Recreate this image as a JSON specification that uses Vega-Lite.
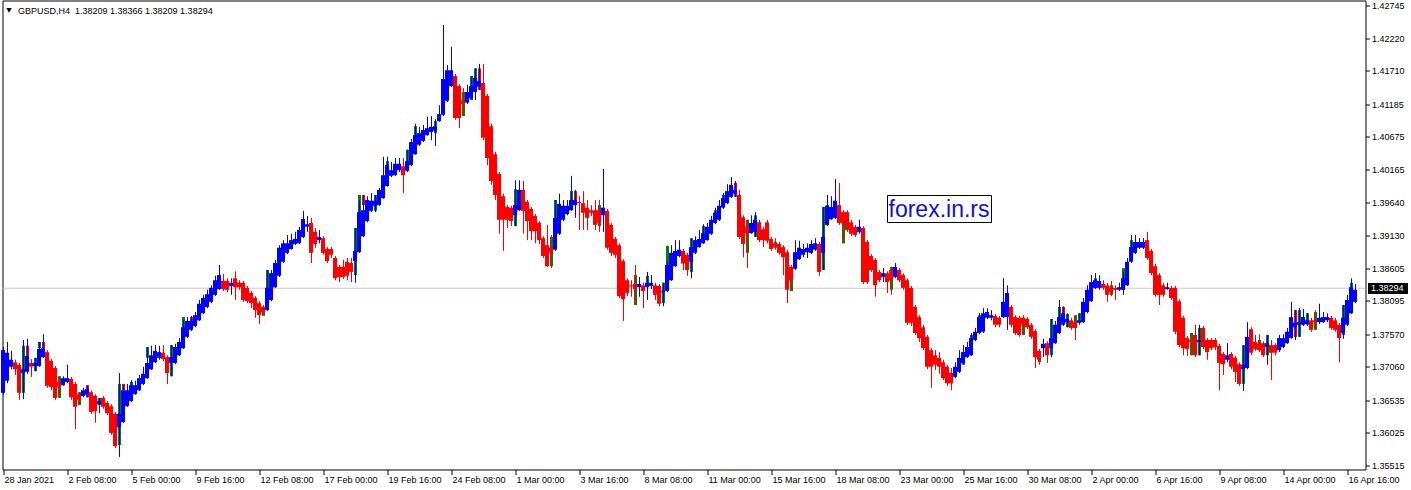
{
 "$schema": "https://vega.github.io/schema/vega-lite/v6.json",
 "width": 1363, "height": 469,
 "autosize": {"type": "none"},
 "padding": {"left": 2.5, "top": 0.5, "right": 45.5, "bottom": 20.5},
 "background": "white",
 "config": {"view": {"stroke": "#000000", "strokeWidth": 1}, "axis": {"labelFont": "Liberation Sans", "labelFontSize": 9, "labelColor": "#000000", "tickColor": "#000000", "grid": false}},
 "datasets": {
  "bid": [{"p": 1.38294}],
  "tag": [{"x1": 341.25, "x2": 351.25, "y1": 1.38376, "y2": 1.38203, "x": 342, "p": 1.38294, "t": "1.38294"}],
  "wm": [{"x1": 221.125, "x2": 247.125, "y1": 1.39751, "y2": 1.39327, "x": 234, "p": 1.39413, "t": "forex.in.rs"}],
  "hdr": [{"x": 3.75, "p": 1.42604, "t": "GBPUSD,H4 \u00a01.38209 1.38366 1.38209 1.38294", "tx": 1.5, "tp": 1.42659}],
  "cdl": [
{"i":1,"o":1.3706,"c":1.3724},{"i":5,"o":1.3665,"c":1.3739},{"i":6,"o":1.3739,"c":1.3723},{"i":8,"o":1.3699,"c":1.3720},
{"i":9,"o":1.3735,"c":1.3745},{"i":10,"o":1.3745,"c":1.3735},{"i":14,"o":1.3657,"c":1.3691},{"i":19,"o":1.3646,"c":1.3666},
{"i":21,"o":1.3677,"c":1.3658},{"i":24,"o":1.3646,"c":1.3657},{"i":29,"o":1.3583,"c":1.3679},{"i":30,"o":1.3679,"c":1.3669},
{"i":32,"o":1.3669,"c":1.3682},{"i":36,"o":1.3720,"c":1.3737},{"i":42,"o":1.3691,"c":1.3740},{"i":45,"o":1.3753,"c":1.3784},
{"i":47,"o":1.3784,"c":1.3778},{"i":65,"o":1.3786,"c":1.3795},{"i":66,"o":1.3795,"c":1.3858},{"i":88,"o":1.3850,"c":1.3924},
{"i":89,"o":1.3888,"c":1.3976},{"i":90,"o":1.3976,"c":1.3960},{"i":93,"o":1.3951,"c":1.3976},{"i":96,"o":1.4007,"c":1.4029},
{"i":101,"o":1.4014,"c":1.4047},{"i":103,"o":1.4059,"c":1.4084},{"i":108,"o":1.4073,"c":1.4092},{"i":115,"o":1.4100,"c":1.4138},
{"i":117,"o":1.4125,"c":1.4163},{"i":118,"o":1.4147,"c":1.4175},{"i":119,"o":1.4175,"c":1.4141},{"i":128,"o":1.3927,"c":1.3985},
{"i":137,"o":1.3864,"c":1.3910},{"i":138,"o":1.3940,"c":1.3968},{"i":142,"o":1.3968,"c":1.3982},{"i":143,"o":1.3982,"c":1.3960},
{"i":149,"o":1.3927,"c":1.3960},{"i":158,"o":1.3803,"c":1.3850},{"i":161,"o":1.3833,"c":1.3849},{"i":165,"o":1.3806,"c":1.3838},
{"i":166,"o":1.3866,"c":1.3896},{"i":172,"o":1.3855,"c":1.3908},{"i":175,"o":1.3916,"c":1.3927},{"i":178,"o":1.3933,"c":1.3952},
{"i":180,"o":1.3960,"c":1.3976},{"i":183,"o":1.3995,"c":1.3973},{"i":186,"o":1.3885,"c":1.3937},{"i":188,"o":1.3910,"c":1.3944},
{"i":193,"o":1.3893,"c":1.3902},{"i":197,"o":1.3825,"c":1.3863},{"i":205,"o":1.3858,"c":1.3957},{"i":206,"o":1.3929,"c":1.3960},
{"i":210,"o":1.3900,"c":1.3948},{"i":222,"o":1.3827,"c":1.3863},{"i":237,"o":1.3680,"c":1.3696},{"i":240,"o":1.3709,"c":1.3729},
{"i":242,"o":1.3732,"c":1.3756},{"i":244,"o":1.3764,"c":1.3787},{"i":250,"o":1.3784,"c":1.3808},{"i":255,"o":1.3756,"c":1.3779},
{"i":259,"o":1.3713,"c":1.3728},{"i":262,"o":1.3724,"c":1.3781},{"i":264,"o":1.3772,"c":1.3800},{"i":265,"o":1.3800,"c":1.3776},
{"i":266,"o":1.3768,"c":1.3789},{"i":268,"o":1.3767,"c":1.3787},{"i":269,"o":1.3776,"c":1.3790},{"i":273,"o":1.3830,"c":1.3845},
{"i":277,"o":1.3819,"c":1.3834},{"i":280,"o":1.3827,"c":1.3861},{"i":282,"o":1.3874,"c":1.3905},{"i":297,"o":1.3724,"c":1.3759},
{"i":299,"o":1.3724,"c":1.3767},{"i":310,"o":1.3679,"c":1.3740},{"i":314,"o":1.3732,"c":1.3748},{"i":316,"o":1.3724,"c":1.3756},
{"i":323,"o":1.3795,"c":1.3753},{"i":324,"o":1.3753,"c":1.3795},{"i":326,"o":1.3772,"c":1.3790},{"i":328,"o":1.3764,"c":1.3792},
{"i":335,"o":1.3756,"c":1.3803},{"i":337,"o":1.3803,"c":1.3838}
  ],
  "bars": [
{"i":0,"o":1.3665,"c":1.3732,"h":1.3737,"l":1.3662},
{"i":1,"o":1.3684,"c":1.3728,"h":1.3745,"l":1.3680},
{"i":2,"o":1.3706,"c":1.3717,"h":1.3731,"l":1.3702},
{"i":3,"o":1.3713,"c":1.3702,"h":1.3717,"l":1.3693},
{"i":4,"o":1.3709,"c":1.3665,"h":1.3712,"l":1.3654},
{"i":5,"o":1.3696,"c":1.3702,"h":1.3748,"l":1.3655},
{"i":6,"o":1.3698,"c":1.3723,"h":1.3750,"l":1.3695},
{"i":7,"o":1.3712,"c":1.3706,"h":1.3718,"l":1.3690},
{"i":8,"o":1.3707,"c":1.3712,"h":1.3720,"l":1.3699},
{"i":9,"o":1.3707,"c":1.3734,"h":1.3745,"l":1.3706},
{"i":10,"o":1.3721,"c":1.3735,"h":1.3757,"l":1.3720},
{"i":11,"o":1.3729,"c":1.3676,"h":1.3732,"l":1.3673},
{"i":12,"o":1.3715,"c":1.3674,"h":1.3718,"l":1.3669},
{"i":13,"o":1.3704,"c":1.3657,"h":1.3707,"l":1.3654},
{"i":14,"o":1.3682,"c":1.3674,"h":1.3691,"l":1.3657},
{"i":15,"o":1.3677,"c":1.3688,"h":1.3691,"l":1.3676},
{"i":16,"o":1.3682,"c":1.3688,"h":1.3709,"l":1.3680},
{"i":17,"o":1.3687,"c":1.3658,"h":1.3690,"l":1.3654},
{"i":18,"o":1.3679,"c":1.3643,"h":1.3682,"l":1.3608},
{"i":19,"o":1.3662,"c":1.3654,"h":1.3666,"l":1.3646},
{"i":20,"o":1.3660,"c":1.3669,"h":1.3673,"l":1.3658},
{"i":21,"o":1.3662,"c":1.3671,"h":1.3677,"l":1.3658},
{"i":22,"o":1.3666,"c":1.3635,"h":1.3669,"l":1.3632},
{"i":23,"o":1.3660,"c":1.3636,"h":1.3663,"l":1.3618},
{"i":24,"o":1.3647,"c":1.3652,"h":1.3657,"l":1.3633},
{"i":25,"o":1.3657,"c":1.3643,"h":1.3660,"l":1.3640},
{"i":26,"o":1.3649,"c":1.3633,"h":1.3652,"l":1.3630},
{"i":27,"o":1.3644,"c":1.3602,"h":1.3647,"l":1.3599},
{"i":28,"o":1.3632,"c":1.3581,"h":1.3635,"l":1.3578},
{"i":29,"o":1.3611,"c":1.3632,"h":1.3696,"l":1.3564},
{"i":30,"o":1.3619,"c":1.3669,"h":1.3677,"l":1.3618},
{"i":31,"o":1.3644,"c":1.3669,"h":1.3679,"l":1.3643},
{"i":32,"o":1.3652,"c":1.3677,"h":1.3685,"l":1.3651},
{"i":33,"o":1.3663,"c":1.3677,"h":1.3684,"l":1.3662},
{"i":34,"o":1.3669,"c":1.3688,"h":1.3693,"l":1.3668},
{"i":35,"o":1.3679,"c":1.3695,"h":1.3706,"l":1.3677},
{"i":36,"o":1.3688,"c":1.3712,"h":1.3737,"l":1.3687},
{"i":37,"o":1.3702,"c":1.3724,"h":1.3739,"l":1.3701},
{"i":38,"o":1.3713,"c":1.3731,"h":1.3740,"l":1.3712},
{"i":39,"o":1.3720,"c":1.3729,"h":1.3739,"l":1.3717},
{"i":40,"o":1.3728,"c":1.3718,"h":1.3740,"l":1.3715},
{"i":41,"o":1.3721,"c":1.3696,"h":1.3724,"l":1.3679},
{"i":42,"o":1.3712,"c":1.3721,"h":1.3740,"l":1.3691},
{"i":43,"o":1.3712,"c":1.3737,"h":1.3742,"l":1.3710},
{"i":44,"o":1.3724,"c":1.3745,"h":1.3751,"l":1.3723},
{"i":45,"o":1.3735,"c":1.3768,"h":1.3779,"l":1.3734},
{"i":46,"o":1.3753,"c":1.3778,"h":1.3784,"l":1.3751},
{"i":47,"o":1.3764,"c":1.3778,"h":1.3786,"l":1.3762},
{"i":48,"o":1.3770,"c":1.3787,"h":1.3792,"l":1.3768},
{"i":49,"o":1.3779,"c":1.3805,"h":1.3811,"l":1.3778},
{"i":50,"o":1.3790,"c":1.3814,"h":1.3819,"l":1.3789},
{"i":51,"o":1.3800,"c":1.3820,"h":1.3827,"l":1.3798},
{"i":52,"o":1.3808,"c":1.3830,"h":1.3834,"l":1.3806},
{"i":53,"o":1.3819,"c":1.3842,"h":1.3849,"l":1.3817},
{"i":54,"o":1.3828,"c":1.3850,"h":1.3866,"l":1.3827},
{"i":55,"o":1.3841,"c":1.3828,"h":1.3852,"l":1.3825},
{"i":56,"o":1.3841,"c":1.3827,"h":1.3845,"l":1.3823},
{"i":57,"o":1.3833,"c":1.3838,"h":1.3845,"l":1.3819},
{"i":58,"o":1.3845,"c":1.3831,"h":1.3856,"l":1.3811},
{"i":59,"o":1.3838,"c":1.3831,"h":1.3842,"l":1.3827},
{"i":60,"o":1.3838,"c":1.3811,"h":1.3841,"l":1.3808},
{"i":61,"o":1.3830,"c":1.3809,"h":1.3833,"l":1.3806},
{"i":62,"o":1.3822,"c":1.3806,"h":1.3825,"l":1.3798},
{"i":63,"o":1.3814,"c":1.3795,"h":1.3817,"l":1.3783},
{"i":64,"o":1.3806,"c":1.3787,"h":1.3809,"l":1.3773},
{"i":65,"o":1.3800,"c":1.3792,"h":1.3803,"l":1.3787},
{"i":66,"o":1.3795,"c":1.3830,"h":1.3858,"l":1.3794},
{"i":67,"o":1.3811,"c":1.3853,"h":1.3858,"l":1.3809},
{"i":68,"o":1.3831,"c":1.3869,"h":1.3874,"l":1.3830},
{"i":69,"o":1.3849,"c":1.3893,"h":1.3897,"l":1.3847},
{"i":70,"o":1.3871,"c":1.3900,"h":1.3905,"l":1.3869},
{"i":71,"o":1.3885,"c":1.3900,"h":1.3913,"l":1.3883},
{"i":72,"o":1.3891,"c":1.3905,"h":1.3915,"l":1.3890},
{"i":73,"o":1.3899,"c":1.3907,"h":1.3918,"l":1.3897},
{"i":74,"o":1.3900,"c":1.3921,"h":1.3926,"l":1.3899},
{"i":75,"o":1.3910,"c":1.3938,"h":1.3951,"l":1.3908},
{"i":76,"o":1.3926,"c":1.3930,"h":1.3943,"l":1.3918},
{"i":77,"o":1.3932,"c":1.3885,"h":1.3940,"l":1.3869},
{"i":78,"o":1.3918,"c":1.3899,"h":1.3924,"l":1.3893},
{"i":79,"o":1.3905,"c":1.3910,"h":1.3921,"l":1.3900},
{"i":80,"o":1.3908,"c":1.3885,"h":1.3911,"l":1.3882},
{"i":81,"o":1.3891,"c":1.3872,"h":1.3894,"l":1.3869},
{"i":82,"o":1.3891,"c":1.3882,"h":1.3894,"l":1.3877},
{"i":83,"o":1.3877,"c":1.3845,"h":1.3880,"l":1.3842},
{"i":84,"o":1.3863,"c":1.3847,"h":1.3866,"l":1.3839},
{"i":85,"o":1.3863,"c":1.3847,"h":1.3874,"l":1.3844},
{"i":86,"o":1.3871,"c":1.3849,"h":1.3877,"l":1.3842},
{"i":87,"o":1.3869,"c":1.3855,"h":1.3877,"l":1.3839},
{"i":88,"o":1.3872,"c":1.3888,"h":1.3924,"l":1.3838},
{"i":89,"o":1.3886,"c":1.3949,"h":1.3968,"l":1.3885},
{"i":90,"o":1.3911,"c":1.3952,"h":1.3976,"l":1.3910},
{"i":91,"o":1.3935,"c":1.3968,"h":1.3974,"l":1.3933},
{"i":92,"o":1.3951,"c":1.3967,"h":1.3979,"l":1.3949},
{"i":93,"o":1.3959,"c":1.3967,"h":1.3976,"l":1.3949},
{"i":94,"o":1.3960,"c":1.3984,"h":1.3987,"l":1.3959},
{"i":95,"o":1.3971,"c":1.4007,"h":1.4036,"l":1.3970},
{"i":96,"o":1.3990,"c":1.4023,"h":1.4036,"l":1.3989},
{"i":97,"o":1.4006,"c":1.4015,"h":1.4028,"l":1.4004},
{"i":98,"o":1.4007,"c":1.4025,"h":1.4034,"l":1.4006},
{"i":99,"o":1.4015,"c":1.4025,"h":1.4034,"l":1.4012},
{"i":100,"o":1.4021,"c":1.4007,"h":1.4034,"l":1.3979},
{"i":101,"o":1.4014,"c":1.4029,"h":1.4047,"l":1.4012},
{"i":102,"o":1.4023,"c":1.4059,"h":1.4064,"l":1.4021},
{"i":103,"o":1.4040,"c":1.4070,"h":1.4088,"l":1.4039},
{"i":104,"o":1.4055,"c":1.4073,"h":1.4083,"l":1.4053},
{"i":105,"o":1.4061,"c":1.4078,"h":1.4086,"l":1.4059},
{"i":106,"o":1.4070,"c":1.4081,"h":1.4099,"l":1.4069},
{"i":107,"o":1.4075,"c":1.4083,"h":1.4100,"l":1.4062},
{"i":108,"o":1.4077,"c":1.4084,"h":1.4095,"l":1.4053},
{"i":109,"o":1.4092,"c":1.4103,"h":1.4117,"l":1.4091},
{"i":110,"o":1.4102,"c":1.4158,"h":1.4243,"l":1.4100},
{"i":111,"o":1.4124,"c":1.4172,"h":1.4180,"l":1.4122},
{"i":112,"o":1.4147,"c":1.4172,"h":1.4209,"l":1.4146},
{"i":113,"o":1.4163,"c":1.4097,"h":1.4166,"l":1.4094},
{"i":114,"o":1.4147,"c":1.4097,"h":1.4150,"l":1.4081},
{"i":115,"o":1.4124,"c":1.4119,"h":1.4144,"l":1.4100},
{"i":116,"o":1.4121,"c":1.4138,"h":1.4149,"l":1.4119},
{"i":117,"o":1.4128,"c":1.4147,"h":1.4161,"l":1.4127},
{"i":118,"o":1.4138,"c":1.4160,"h":1.4175,"l":1.4125},
{"i":119,"o":1.4146,"c":1.4155,"h":1.4182,"l":1.4141},
{"i":120,"o":1.4152,"c":1.4066,"h":1.4182,"l":1.4062},
{"i":121,"o":1.4132,"c":1.4034,"h":1.4135,"l":1.4023},
{"i":122,"o":1.4084,"c":1.3998,"h":1.4088,"l":1.3992},
{"i":123,"o":1.4040,"c":1.3976,"h":1.4044,"l":1.3968},
{"i":124,"o":1.4009,"c":1.3937,"h":1.4012,"l":1.3915},
{"i":125,"o":1.3974,"c":1.3937,"h":1.3978,"l":1.3888},
{"i":126,"o":1.3957,"c":1.3937,"h":1.3960,"l":1.3924},
{"i":127,"o":1.3956,"c":1.3935,"h":1.3959,"l":1.3927},
{"i":128,"o":1.3944,"c":1.3960,"h":1.3999,"l":1.3927},
{"i":129,"o":1.3952,"c":1.3984,"h":1.3999,"l":1.3951},
{"i":130,"o":1.3984,"c":1.3951,"h":1.3998,"l":1.3915},
{"i":131,"o":1.3965,"c":1.3935,"h":1.3968,"l":1.3905},
{"i":132,"o":1.3954,"c":1.3919,"h":1.3957,"l":1.3905},
{"i":133,"o":1.3943,"c":1.3919,"h":1.3946,"l":1.3900},
{"i":134,"o":1.3932,"c":1.3905,"h":1.3935,"l":1.3899},
{"i":135,"o":1.3908,"c":1.3880,"h":1.3911,"l":1.3877},
{"i":136,"o":1.3897,"c":1.3864,"h":1.3929,"l":1.3863},
{"i":137,"o":1.3893,"c":1.3885,"h":1.3913,"l":1.3861},
{"i":138,"o":1.3890,"c":1.3940,"h":1.3968,"l":1.3888},
{"i":139,"o":1.3915,"c":1.3962,"h":1.3978,"l":1.3913},
{"i":140,"o":1.3937,"c":1.3959,"h":1.3968,"l":1.3935},
{"i":141,"o":1.3946,"c":1.3959,"h":1.3968,"l":1.3944},
{"i":142,"o":1.3952,"c":1.3968,"h":1.4006,"l":1.3951},
{"i":143,"o":1.3960,"c":1.3968,"h":1.3984,"l":1.3940},
{"i":144,"o":1.3965,"c":1.3963,"h":1.3974,"l":1.3921},
{"i":145,"o":1.3963,"c":1.3948,"h":1.3982,"l":1.3921},
{"i":146,"o":1.3956,"c":1.3940,"h":1.3968,"l":1.3921},
{"i":147,"o":1.3952,"c":1.3948,"h":1.3960,"l":1.3943},
{"i":148,"o":1.3952,"c":1.3929,"h":1.3968,"l":1.3921},
{"i":149,"o":1.3952,"c":1.3932,"h":1.3968,"l":1.3918},
{"i":150,"o":1.3944,"c":1.3956,"h":1.4017,"l":1.3918},
{"i":151,"o":1.3951,"c":1.3893,"h":1.3954,"l":1.3890},
{"i":152,"o":1.3929,"c":1.3885,"h":1.3932,"l":1.3880},
{"i":153,"o":1.3907,"c":1.3882,"h":1.3910,"l":1.3877},
{"i":154,"o":1.3897,"c":1.3817,"h":1.3900,"l":1.3814},
{"i":155,"o":1.3872,"c":1.3812,"h":1.3875,"l":1.3778},
{"i":156,"o":1.3842,"c":1.3822,"h":1.3845,"l":1.3817},
{"i":157,"o":1.3834,"c":1.3832,"h":1.3842,"l":1.3816},
{"i":158,"o":1.3836,"c":1.3828,"h":1.3866,"l":1.3803},
{"i":159,"o":1.3831,"c":1.3836,"h":1.3847,"l":1.3816},
{"i":160,"o":1.3834,"c":1.3825,"h":1.3838,"l":1.3798},
{"i":161,"o":1.3831,"c":1.3838,"h":1.3855,"l":1.3811},
{"i":162,"o":1.3833,"c":1.3838,"h":1.3850,"l":1.3828},
{"i":163,"o":1.3834,"c":1.3819,"h":1.3838,"l":1.3811},
{"i":164,"o":1.3833,"c":1.3805,"h":1.3836,"l":1.3801},
{"i":165,"o":1.3823,"c":1.3825,"h":1.3838,"l":1.3801},
{"i":166,"o":1.3825,"c":1.3866,"h":1.3871,"l":1.3823},
{"i":167,"o":1.3842,"c":1.3885,"h":1.3897,"l":1.3841},
{"i":168,"o":1.3864,"c":1.3888,"h":1.3905,"l":1.3863},
{"i":169,"o":1.3880,"c":1.3890,"h":1.3905,"l":1.3878},
{"i":170,"o":1.3888,"c":1.3868,"h":1.3891,"l":1.3858},
{"i":171,"o":1.3882,"c":1.3858,"h":1.3885,"l":1.3849},
{"i":172,"o":1.3871,"c":1.3894,"h":1.3908,"l":1.3845},
{"i":173,"o":1.3885,"c":1.3905,"h":1.3911,"l":1.3883},
{"i":174,"o":1.3894,"c":1.3907,"h":1.3921,"l":1.3893},
{"i":175,"o":1.3900,"c":1.3916,"h":1.3930,"l":1.3899},
{"i":176,"o":1.3905,"c":1.3926,"h":1.3932,"l":1.3904},
{"i":177,"o":1.3915,"c":1.3937,"h":1.3943,"l":1.3913},
{"i":178,"o":1.3932,"c":1.3948,"h":1.3956,"l":1.3930},
{"i":179,"o":1.3937,"c":1.3959,"h":1.3968,"l":1.3935},
{"i":180,"o":1.3956,"c":1.3971,"h":1.3979,"l":1.3954},
{"i":181,"o":1.3963,"c":1.3982,"h":1.3993,"l":1.3962},
{"i":182,"o":1.3973,"c":1.3992,"h":1.4004,"l":1.3971},
{"i":183,"o":1.3978,"c":1.3984,"h":1.3998,"l":1.3973},
{"i":184,"o":1.3976,"c":1.3910,"h":1.3984,"l":1.3907},
{"i":185,"o":1.3941,"c":1.3899,"h":1.3944,"l":1.3878},
{"i":186,"o":1.3926,"c":1.3916,"h":1.3937,"l":1.3861},
{"i":187,"o":1.3916,"c":1.3932,"h":1.3944,"l":1.3915},
{"i":188,"o":1.3918,"c":1.3937,"h":1.3949,"l":1.3910},
{"i":189,"o":1.3933,"c":1.3905,"h":1.3937,"l":1.3902},
{"i":190,"o":1.3922,"c":1.3905,"h":1.3926,"l":1.3894},
{"i":191,"o":1.3933,"c":1.3904,"h":1.3937,"l":1.3900},
{"i":192,"o":1.3907,"c":1.3891,"h":1.3910,"l":1.3888},
{"i":193,"o":1.3900,"c":1.3894,"h":1.3908,"l":1.3890},
{"i":194,"o":1.3899,"c":1.3885,"h":1.3902,"l":1.3882},
{"i":195,"o":1.3894,"c":1.3878,"h":1.3897,"l":1.3850},
{"i":196,"o":1.3886,"c":1.3827,"h":1.3890,"l":1.3806},
{"i":197,"o":1.3863,"c":1.3842,"h":1.3866,"l":1.3825},
{"i":198,"o":1.3860,"c":1.3886,"h":1.3905,"l":1.3858},
{"i":199,"o":1.3875,"c":1.3893,"h":1.3904,"l":1.3874},
{"i":200,"o":1.3882,"c":1.3891,"h":1.3899,"l":1.3878},
{"i":201,"o":1.3886,"c":1.3893,"h":1.3900,"l":1.3877},
{"i":202,"o":1.3885,"c":1.3899,"h":1.3905,"l":1.3883},
{"i":203,"o":1.3890,"c":1.3900,"h":1.3908,"l":1.3888},
{"i":204,"o":1.3899,"c":1.3855,"h":1.3902,"l":1.3849},
{"i":205,"o":1.3885,"c":1.3910,"h":1.3957,"l":1.3858},
{"i":206,"o":1.3929,"c":1.3959,"h":1.3976,"l":1.3927},
{"i":207,"o":1.3938,"c":1.3957,"h":1.3974,"l":1.3937},
{"i":208,"o":1.3940,"c":1.3967,"h":1.4001,"l":1.3938},
{"i":209,"o":1.3960,"c":1.3932,"h":1.3995,"l":1.3929},
{"i":210,"o":1.3949,"c":1.3932,"h":1.3952,"l":1.3900},
{"i":211,"o":1.3949,"c":1.3921,"h":1.3952,"l":1.3918},
{"i":212,"o":1.3933,"c":1.3915,"h":1.3937,"l":1.3911},
{"i":213,"o":1.3926,"c":1.3913,"h":1.3929,"l":1.3910},
{"i":214,"o":1.3918,"c":1.3926,"h":1.3937,"l":1.3915},
{"i":215,"o":1.3924,"c":1.3839,"h":1.3927,"l":1.3836},
{"i":216,"o":1.3902,"c":1.3839,"h":1.3905,"l":1.3836},
{"i":217,"o":1.3880,"c":1.3858,"h":1.3883,"l":1.3855},
{"i":218,"o":1.3874,"c":1.3834,"h":1.3877,"l":1.3816},
{"i":219,"o":1.3855,"c":1.3842,"h":1.3858,"l":1.3839},
{"i":220,"o":1.3847,"c":1.3853,"h":1.3861,"l":1.3839},
{"i":221,"o":1.3853,"c":1.3839,"h":1.3856,"l":1.3822},
{"i":222,"o":1.3858,"c":1.3842,"h":1.3863,"l":1.3819},
{"i":223,"o":1.3847,"c":1.3863,"h":1.3869,"l":1.3845},
{"i":224,"o":1.3858,"c":1.3842,"h":1.3861,"l":1.3839},
{"i":225,"o":1.3850,"c":1.3830,"h":1.3853,"l":1.3827},
{"i":226,"o":1.3842,"c":1.3775,"h":1.3845,"l":1.3772},
{"i":227,"o":1.3830,"c":1.3775,"h":1.3833,"l":1.3770},
{"i":228,"o":1.3800,"c":1.3759,"h":1.3803,"l":1.3756},
{"i":229,"o":1.3784,"c":1.3751,"h":1.3787,"l":1.3745},
{"i":230,"o":1.3768,"c":1.3735,"h":1.3772,"l":1.3732},
{"i":231,"o":1.3753,"c":1.3706,"h":1.3756,"l":1.3702},
{"i":232,"o":1.3732,"c":1.3706,"h":1.3735,"l":1.3673},
{"i":233,"o":1.3724,"c":1.3709,"h":1.3732,"l":1.3701},
{"i":234,"o":1.3720,"c":1.3706,"h":1.3729,"l":1.3695},
{"i":235,"o":1.3713,"c":1.3688,"h":1.3717,"l":1.3685},
{"i":236,"o":1.3706,"c":1.3680,"h":1.3709,"l":1.3676},
{"i":237,"o":1.3696,"c":1.3680,"h":1.3704,"l":1.3669},
{"i":238,"o":1.3690,"c":1.3706,"h":1.3713,"l":1.3688},
{"i":239,"o":1.3698,"c":1.3720,"h":1.3732,"l":1.3696},
{"i":240,"o":1.3712,"c":1.3729,"h":1.3740,"l":1.3710},
{"i":241,"o":1.3721,"c":1.3737,"h":1.3745,"l":1.3720},
{"i":242,"o":1.3724,"c":1.3751,"h":1.3759,"l":1.3723},
{"i":243,"o":1.3748,"c":1.3761,"h":1.3767,"l":1.3746},
{"i":244,"o":1.3759,"c":1.3784,"h":1.3790,"l":1.3757},
{"i":245,"o":1.3761,"c":1.3790,"h":1.3798,"l":1.3759},
{"i":246,"o":1.3783,"c":1.3792,"h":1.3798,"l":1.3781},
{"i":247,"o":1.3783,"c":1.3787,"h":1.3795,"l":1.3779},
{"i":248,"o":1.3786,"c":1.3772,"h":1.3789,"l":1.3768},
{"i":249,"o":1.3783,"c":1.3772,"h":1.3786,"l":1.3768},
{"i":250,"o":1.3784,"c":1.3808,"h":1.3845,"l":1.3783},
{"i":251,"o":1.3784,"c":1.3822,"h":1.3834,"l":1.3764},
{"i":252,"o":1.3800,"c":1.3772,"h":1.3803,"l":1.3768},
{"i":253,"o":1.3784,"c":1.3759,"h":1.3787,"l":1.3756},
{"i":254,"o":1.3783,"c":1.3756,"h":1.3786,"l":1.3753},
{"i":255,"o":1.3783,"c":1.3772,"h":1.3787,"l":1.3756},
{"i":256,"o":1.3781,"c":1.3768,"h":1.3784,"l":1.3765},
{"i":257,"o":1.3772,"c":1.3753,"h":1.3775,"l":1.3750},
{"i":258,"o":1.3762,"c":1.3721,"h":1.3765,"l":1.3704},
{"i":259,"o":1.3731,"c":1.3717,"h":1.3734,"l":1.3709},
{"i":260,"o":1.3735,"c":1.3742,"h":1.3750,"l":1.3721},
{"i":261,"o":1.3743,"c":1.3724,"h":1.3746,"l":1.3712},
{"i":262,"o":1.3735,"c":1.3751,"h":1.3781,"l":1.3721},
{"i":263,"o":1.3743,"c":1.3772,"h":1.3778,"l":1.3742},
{"i":264,"o":1.3759,"c":1.3784,"h":1.3811,"l":1.3757},
{"i":265,"o":1.3772,"c":1.3790,"h":1.3801,"l":1.3770},
{"i":266,"o":1.3776,"c":1.3781,"h":1.3790,"l":1.3768},
{"i":267,"o":1.3779,"c":1.3767,"h":1.3783,"l":1.3764},
{"i":268,"o":1.3776,"c":1.3767,"h":1.3786,"l":1.3748},
{"i":269,"o":1.3775,"c":1.3779,"h":1.3790,"l":1.3772},
{"i":270,"o":1.3776,"c":1.3808,"h":1.3814,"l":1.3775},
{"i":271,"o":1.3792,"c":1.3827,"h":1.3834,"l":1.3790},
{"i":272,"o":1.3809,"c":1.3839,"h":1.3850,"l":1.3808},
{"i":273,"o":1.3830,"c":1.3842,"h":1.3853,"l":1.3828},
{"i":274,"o":1.3830,"c":1.3841,"h":1.3850,"l":1.3827},
{"i":275,"o":1.3836,"c":1.3830,"h":1.3842,"l":1.3827},
{"i":276,"o":1.3834,"c":1.3819,"h":1.3838,"l":1.3808},
{"i":277,"o":1.3831,"c":1.3823,"h":1.3841,"l":1.3817},
{"i":278,"o":1.3830,"c":1.3827,"h":1.3834,"l":1.3811},
{"i":279,"o":1.3827,"c":1.3831,"h":1.3838,"l":1.3825},
{"i":280,"o":1.3827,"c":1.3845,"h":1.3855,"l":1.3819},
{"i":281,"o":1.3834,"c":1.3871,"h":1.3877,"l":1.3833},
{"i":282,"o":1.3871,"c":1.3894,"h":1.3913,"l":1.3869},
{"i":283,"o":1.3885,"c":1.3902,"h":1.3913,"l":1.3883},
{"i":284,"o":1.3893,"c":1.3902,"h":1.3908,"l":1.3891},
{"i":285,"o":1.3893,"c":1.3902,"h":1.3908,"l":1.3891},
{"i":286,"o":1.3905,"c":1.3877,"h":1.3918,"l":1.3874},
{"i":287,"o":1.3888,"c":1.3853,"h":1.3891,"l":1.3850},
{"i":288,"o":1.3864,"c":1.3819,"h":1.3868,"l":1.3816},
{"i":289,"o":1.3850,"c":1.3819,"h":1.3853,"l":1.3803},
{"i":290,"o":1.3834,"c":1.3819,"h":1.3838,"l":1.3816},
{"i":291,"o":1.3828,"c":1.3831,"h":1.3838,"l":1.3827},
{"i":292,"o":1.3830,"c":1.3814,"h":1.3833,"l":1.3811},
{"i":293,"o":1.3830,"c":1.3761,"h":1.3833,"l":1.3757},
{"i":294,"o":1.3809,"c":1.3740,"h":1.3812,"l":1.3737},
{"i":295,"o":1.3783,"c":1.3735,"h":1.3786,"l":1.3724},
{"i":296,"o":1.3751,"c":1.3734,"h":1.3754,"l":1.3723},
{"i":297,"o":1.3748,"c":1.3745,"h":1.3759,"l":1.3724},
{"i":298,"o":1.3756,"c":1.3724,"h":1.3772,"l":1.3721},
{"i":299,"o":1.3745,"c":1.3748,"h":1.3772,"l":1.3724},
{"i":300,"o":1.3767,"c":1.3737,"h":1.3770,"l":1.3734},
{"i":301,"o":1.3748,"c":1.3729,"h":1.3751,"l":1.3717},
{"i":302,"o":1.3748,"c":1.3735,"h":1.3751,"l":1.3732},
{"i":303,"o":1.3748,"c":1.3737,"h":1.3751,"l":1.3732},
{"i":304,"o":1.3739,"c":1.3712,"h":1.3742,"l":1.3669},
{"i":305,"o":1.3726,"c":1.3710,"h":1.3729,"l":1.3693},
{"i":306,"o":1.3717,"c":1.3724,"h":1.3743,"l":1.3713},
{"i":307,"o":1.3726,"c":1.3706,"h":1.3729,"l":1.3702},
{"i":308,"o":1.3720,"c":1.3698,"h":1.3723,"l":1.3682},
{"i":309,"o":1.3710,"c":1.3679,"h":1.3713,"l":1.3676},
{"i":310,"o":1.3702,"c":1.3709,"h":1.3740,"l":1.3668},
{"i":311,"o":1.3704,"c":1.3753,"h":1.3776,"l":1.3702},
{"i":312,"o":1.3765,"c":1.3728,"h":1.3768,"l":1.3724},
{"i":313,"o":1.3745,"c":1.3734,"h":1.3756,"l":1.3731},
{"i":314,"o":1.3743,"c":1.3732,"h":1.3757,"l":1.3729},
{"i":315,"o":1.3743,"c":1.3724,"h":1.3746,"l":1.3721},
{"i":316,"o":1.3737,"c":1.3743,"h":1.3756,"l":1.3709},
{"i":317,"o":1.3740,"c":1.3728,"h":1.3748,"l":1.3685},
{"i":318,"o":1.3740,"c":1.3728,"h":1.3743,"l":1.3724},
{"i":319,"o":1.3732,"c":1.3751,"h":1.3756,"l":1.3729},
{"i":320,"o":1.3737,"c":1.3751,"h":1.3757,"l":1.3735},
{"i":321,"o":1.3743,"c":1.3761,"h":1.3767,"l":1.3742},
{"i":322,"o":1.3751,"c":1.3784,"h":1.3808,"l":1.3750},
{"i":323,"o":1.3768,"c":1.3775,"h":1.3795,"l":1.3748},
{"i":324,"o":1.3772,"c":1.3776,"h":1.3798,"l":1.3753},
{"i":325,"o":1.3772,"c":1.3784,"h":1.3797,"l":1.3770},
{"i":326,"o":1.3773,"c":1.3779,"h":1.3790,"l":1.3770},
{"i":327,"o":1.3779,"c":1.3764,"h":1.3783,"l":1.3761},
{"i":328,"o":1.3779,"c":1.3776,"h":1.3795,"l":1.3764},
{"i":329,"o":1.3776,"c":1.3783,"h":1.3805,"l":1.3773},
{"i":330,"o":1.3776,"c":1.3784,"h":1.3792,"l":1.3775},
{"i":331,"o":1.3779,"c":1.3784,"h":1.3790,"l":1.3776},
{"i":332,"o":1.3783,"c":1.3767,"h":1.3786,"l":1.3764},
{"i":333,"o":1.3779,"c":1.3764,"h":1.3783,"l":1.3761},
{"i":334,"o":1.3772,"c":1.3751,"h":1.3775,"l":1.3713},
{"i":335,"o":1.3759,"c":1.3783,"h":1.3803,"l":1.3750},
{"i":336,"o":1.3772,"c":1.3811,"h":1.3819,"l":1.3770},
{"i":337,"o":1.3790,"c":1.3831,"h":1.3845,"l":1.3789},
{"i":338,"o":1.3808,"c":1.3827,"h":1.3836,"l":1.3806}
  ]
 },
 "layer": [
  {
   "data": {"name": "bid"},
   "mark": {"type": "rule", "color": "#d6c3c8", "strokeWidth": 1},
   "encoding": {
    "y": {"field": "p", "type": "quantitative", "title": null, "scale": {"domain": [1.35445, 1.42816], "nice": false, "zero": false}}
   }
  },
  {
   "data": {"name": "cdl"},
   "mark": {"type": "rule", "strokeWidth": 3, "strokeCap": "butt", "xOffset": 0.5},
   "encoding": {
    "x": {"field": "i", "type": "quantitative", "title": null, "scale": {"domain": [-0.125, 340.625], "nice": false, "zero": false}},
    "y": {"field": "o", "type": "quantitative", "title": null, "scale": {"domain": [1.35445, 1.42816], "nice": false, "zero": false}},
    "y2": {"field": "c"},
    "color": {"condition": {"test": "datum.c > datum.o", "value": "#008000"}, "value": "#ff0000"}
   }
  },
  {
   "data": {"name": "bars"},
   "transform": [{"filter": "datum.c >= datum.o"}],
   "mark": {"type": "rule", "strokeWidth": 1, "color": "#0000ff", "xOffset": 0.5},
   "encoding": {
    "x": {"field": "i", "type": "quantitative", "title": null, "scale": {"domain": [-0.125, 340.625], "nice": false, "zero": false},
      "axis": {"orient": "bottom", "values": [0,16,32,48,64,80,96,112,128,144,160,176,192,208,224,240,256,272,288,304,320,336], "tickCount": 40, "labelExpr": "['28 Jan 2021','2 Feb 08:00','5 Feb 00:00','9 Feb 16:00','12 Feb 08:00','17 Feb 00:00','19 Feb 16:00','24 Feb 08:00','1 Mar 00:00','3 Mar 16:00','8 Mar 08:00','11 Mar 00:00','15 Mar 16:00','18 Mar 08:00','23 Mar 00:00','25 Mar 16:00','30 Mar 08:00','2 Apr 00:00','6 Apr 16:00','9 Apr 08:00','14 Apr 00:00','16 Apr 16:00'][round(datum.value/16)]", "title": null, "tickSize": 5, "labelAlign": "left", "labelBaseline": "top", "labelPadding": 1, "labelOffset": 1, "domain": false, "labelFlush": false, "labelOverlap": false, "labelBound": false}},
    "y": {"field": "l", "type": "quantitative", "title": null, "scale": {"domain": [1.35445, 1.42816], "nice": false, "zero": false},
      "axis": {"orient": "right", "values": [1.35515,1.36025,1.36535,1.3706,1.3757,1.38095,1.38605,1.3913,1.3964,1.40165,1.40675,1.41185,1.4171,1.4222,1.42745], "tickCount": 40, "format": ".5f", "title": null, "tickSize": 4, "labelPadding": 2, "domain": false, "labelBaseline": "middle", "labelOverlap": false, "labelFlush": false, "labelBound": false}},
    "y2": {"field": "h"}
   }
  },
  {
   "data": {"name": "bars"},
   "transform": [{"filter": "datum.c < datum.o"}],
   "mark": {"type": "rule", "strokeWidth": 1, "color": "#ff0000", "xOffset": 0.5},
   "encoding": {
    "x": {"field": "i", "type": "quantitative", "title": null, "scale": {"domain": [-0.125, 340.625], "nice": false, "zero": false}},
    "y": {"field": "l", "type": "quantitative", "title": null, "scale": {"domain": [1.35445, 1.42816], "nice": false, "zero": false}},
    "y2": {"field": "h"}
   }
  },
  {
   "data": {"name": "bars"},
   "transform": [{"filter": "datum.c >= datum.o"}],
   "mark": {"type": "rule", "strokeWidth": 4, "strokeCap": "butt", "color": "#0000ff"},
   "encoding": {
    "x": {"field": "i", "type": "quantitative", "title": null, "scale": {"domain": [-0.125, 340.625], "nice": false, "zero": false}},
    "y": {"field": "o", "type": "quantitative", "title": null, "scale": {"domain": [1.35445, 1.42816], "nice": false, "zero": false}},
    "y2": {"field": "c"}
   }
  },
  {
   "data": {"name": "bars"},
   "transform": [{"filter": "datum.c < datum.o"}],
   "mark": {"type": "rule", "strokeWidth": 4, "strokeCap": "butt", "color": "#ff0000"},
   "encoding": {
    "x": {"field": "i", "type": "quantitative", "title": null, "scale": {"domain": [-0.125, 340.625], "nice": false, "zero": false}},
    "y": {"field": "o", "type": "quantitative", "title": null, "scale": {"domain": [1.35445, 1.42816], "nice": false, "zero": false}},
    "y2": {"field": "c"}
   }
  },
  {
   "data": {"name": "tag"},
   "mark": {"type": "rect", "fill": "#000000"},
   "encoding": {
    "x": {"field": "x1", "type": "quantitative", "title": null, "scale": {"domain": [-0.125, 340.625], "nice": false, "zero": false}},
    "x2": {"field": "x2"},
    "y": {"field": "y1", "type": "quantitative", "title": null, "scale": {"domain": [1.35445, 1.42816], "nice": false, "zero": false}},
    "y2": {"field": "y2"}
   }
  },
  {
   "data": {"name": "tag"},
   "mark": {"type": "text", "color": "#ffffff", "font": "Liberation Sans", "fontSize": 9, "align": "left", "baseline": "middle"},
   "encoding": {
    "x": {"field": "x", "type": "quantitative", "title": null, "scale": {"domain": [-0.125, 340.625], "nice": false, "zero": false}},
    "y": {"field": "p", "type": "quantitative", "title": null, "scale": {"domain": [1.35445, 1.42816], "nice": false, "zero": false}},
    "text": {"field": "t"}
   }
  },
  {
   "data": {"name": "wm"},
   "mark": {"type": "rect", "fill": "#ffffff", "stroke": "#000000", "strokeWidth": 1},
   "encoding": {
    "x": {"field": "x1", "type": "quantitative", "title": null, "scale": {"domain": [-0.125, 340.625], "nice": false, "zero": false}},
    "x2": {"field": "x2"},
    "y": {"field": "y1", "type": "quantitative", "title": null, "scale": {"domain": [1.35445, 1.42816], "nice": false, "zero": false}},
    "y2": {"field": "y2"}
   }
  },
  {
   "data": {"name": "wm"},
   "mark": {"type": "text", "color": "#1010d0", "font": "Liberation Sans", "fontSize": 23, "align": "center", "baseline": "alphabetic"},
   "encoding": {
    "x": {"field": "x", "type": "quantitative", "title": null, "scale": {"domain": [-0.125, 340.625], "nice": false, "zero": false}},
    "y": {"field": "p", "type": "quantitative", "title": null, "scale": {"domain": [1.35445, 1.42816], "nice": false, "zero": false}},
    "text": {"field": "t"}
   }
  },
  {
   "data": {"name": "hdr"},
   "mark": {"type": "point", "shape": "triangle-down", "filled": true, "color": "#000000", "size": 30, "opacity": 1},
   "encoding": {
    "x": {"field": "tx", "type": "quantitative", "title": null, "scale": {"domain": [-0.125, 340.625], "nice": false, "zero": false}},
    "y": {"field": "tp", "type": "quantitative", "title": null, "scale": {"domain": [1.35445, 1.42816], "nice": false, "zero": false}}
   }
  },
  {
   "data": {"name": "hdr"},
   "mark": {"type": "text", "color": "#000000", "font": "Liberation Sans", "fontSize": 9, "align": "left", "baseline": "alphabetic"},
   "encoding": {
    "x": {"field": "x", "type": "quantitative", "title": null, "scale": {"domain": [-0.125, 340.625], "nice": false, "zero": false}},
    "y": {"field": "p", "type": "quantitative", "title": null, "scale": {"domain": [1.35445, 1.42816], "nice": false, "zero": false}},
    "text": {"field": "t"}
   }
  }
 ]
}
